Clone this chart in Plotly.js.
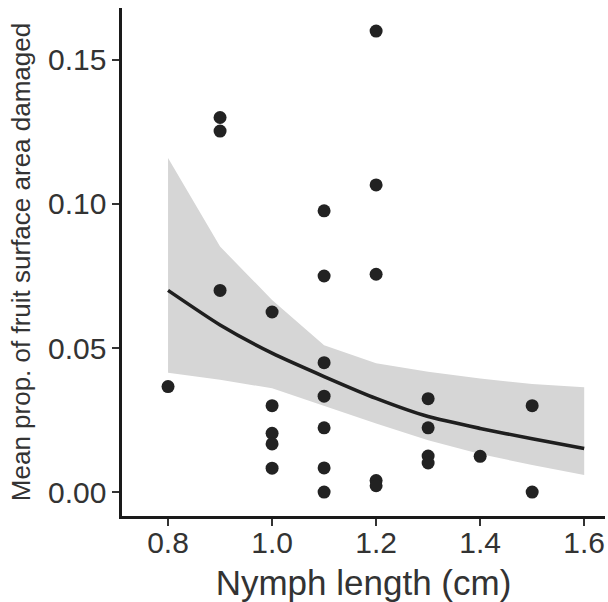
<!DOCTYPE html>
<html>
<head>
<meta charset="utf-8">
<script src="https://cdn.plot.ly/plotly-3.0.1.min.js"></script>
<style>html,body{margin:0;padding:0;background:#fff;}#chart{width:608px;height:602px;}</style>
</head>
<body>
<div id="chart"></div>
<script>
// Observed points
const nymphLength = [0.8, 0.9, 0.9, 0.9, 1.0, 1.0, 1.0, 1.0, 1.0, 1.1, 1.1, 1.1, 1.1, 1.1, 1.1, 1.1, 1.2, 1.2, 1.2, 1.2, 1.2, 1.3, 1.3, 1.3, 1.3, 1.4, 1.5, 1.5];
const propDamaged = [0.0366, 0.130, 0.1253, 0.0700, 0.0625, 0.0300, 0.0204, 0.0167, 0.0083, 0.0976, 0.0750, 0.0449, 0.0333, 0.0223, 0.0084, 0.0000, 0.1600, 0.1066, 0.0756, 0.0040, 0.0022, 0.0324, 0.0223, 0.0125, 0.0101, 0.0124, 0.0300, 0.0000];

// Fitted curve and confidence band
const fitX = [0.8, 0.9, 1.0, 1.1, 1.2, 1.3, 1.4, 1.5, 1.6];
const fitY = [0.0700, 0.0580, 0.0482, 0.0401, 0.0325, 0.0262, 0.0221, 0.0185, 0.0151];
const fitUpper = [0.1159, 0.0852, 0.0667, 0.0510, 0.0447, 0.0418, 0.0394, 0.0375, 0.0364];
const fitLower = [0.0414, 0.0390, 0.0360, 0.0298, 0.0238, 0.0180, 0.0132, 0.0094, 0.0059];

// Axis ticks
const xTicks = [0.8, 1.0, 1.2, 1.4, 1.6];
const xTickText = ['0.8', '1.0', '1.2', '1.4', '1.6'];
const yTicks = [0.00, 0.05, 0.10, 0.15];
const yTickText = ['0.00', '0.05', '0.10', '0.15'];

const font = 'Liberation Sans, Arial, sans-serif';

const traces = [
  {x: fitX, y: fitLower, type: 'scatter', mode: 'lines', line: {width: 0, color: 'rgba(0,0,0,0)'}, hoverinfo: 'skip', showlegend: false},
  {x: fitX, y: fitUpper, type: 'scatter', mode: 'lines', fill: 'tonexty', fillcolor: '#d6d6d6', line: {width: 0, color: 'rgba(0,0,0,0)'}, hoverinfo: 'skip', showlegend: false},
  {x: fitX, y: fitY, type: 'scatter', mode: 'lines', line: {color: '#1f1f1f', width: 3.6, shape: 'spline', smoothing: 0.6}, showlegend: false},
  {x: nymphLength, y: propDamaged, type: 'scatter', mode: 'markers', marker: {color: '#222222', size: 13}, showlegend: false}
];

const layout = {
  width: 608, height: 602,
  margin: {l: 122, r: 3, t: 8, b: 86},
  paper_bgcolor: '#ffffff', plot_bgcolor: '#ffffff',
  showlegend: false,
  xaxis: {
    range: [0.7115, 1.64],
    tickvals: xTicks, ticktext: xTickText,
    showgrid: false, zeroline: false,
    showline: true, linecolor: '#1a1a1a', linewidth: 2.6,
    ticks: 'outside', ticklen: 7, tickwidth: 2.6, tickcolor: '#333333',
    ticklabelstandoff: -9,
    tickfont: {family: font, size: 30, color: '#333333'},
    title: {text: 'Nymph length (cm)', font: {family: font, size: 35, color: '#333333'}, standoff: 16},
    automargin: false
  },
  yaxis: {
    range: [-0.0083, 0.168],
    tickvals: yTicks, ticktext: yTickText,
    showgrid: false, zeroline: false,
    showline: true, linecolor: '#1a1a1a', linewidth: 2.6,
    ticks: 'outside', ticklen: 7, tickwidth: 2.6, tickcolor: '#333333',
    tickfont: {family: font, size: 30, color: '#333333'},
    title: {text: 'Mean prop. of fruit surface area damaged', font: {family: font, size: 26, color: '#333333'}, standoff: 10},
    automargin: false
  }
};

Plotly.newPlot('chart', traces, layout, {displayModeBar: false, staticPlot: true});
</script>
</body>
</html>
